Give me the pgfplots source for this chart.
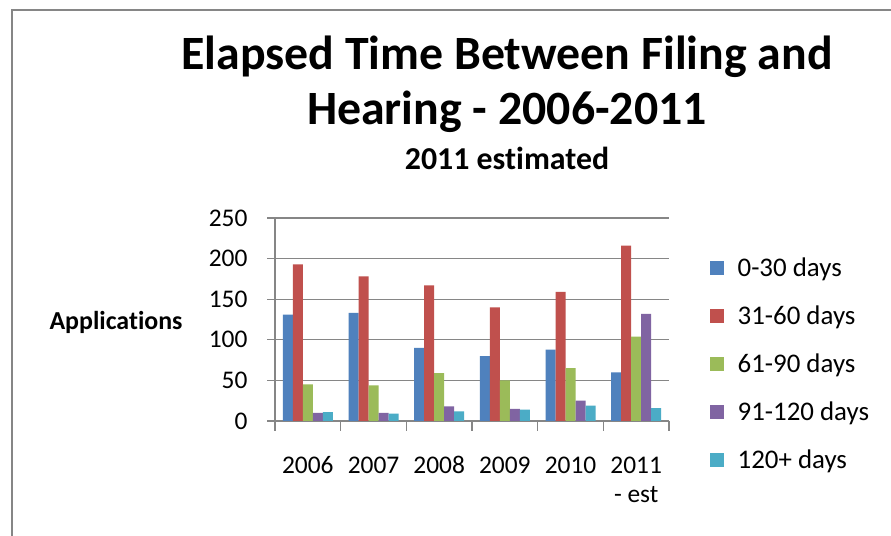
\documentclass[border=0pt]{standalone}
\usepackage{pgfplots}
\pgfplotsset{compat=1.18}
\usepackage{pgfplotstable}
\usepackage{fontspec}
\setmainfont{Carlito}[RawFeature=-liga]
\definecolor{cA}{HTML}{4F81BD}
\definecolor{cB}{HTML}{C0504D}
\definecolor{cC}{HTML}{9BBB59}
\definecolor{cD}{HTML}{8064A2}
\definecolor{cE}{HTML}{4BACC6}
\definecolor{gridgray}{RGB}{134,134,134}
\pgfplotstableread{
x a b c d e
0 131 193 45 10 11
1 133 178 44 10 9
2 90 167 59 18 12
3 80 140 50 15 14
4 88 159 65 25 19
5 60 216 104 132 16
}\datatable
\begin{document}
\begin{tikzpicture}[x=1bp,y=1bp]
\useasboundingbox (0,0) rectangle (891,536);
\fill[white] (0,0) rectangle (891,536);
\draw[gridgray, line width=2bp] (12,0) -- (12,526) -- (891,526);
\node[anchor=base, inner sep=0, font=\bfseries\fontsize{48}{56}\selectfont] at (507,466) {Elapsed Time Between Filing and};
\node[anchor=base, inner sep=0, font=\bfseries\fontsize{48}{56}\selectfont] at (507,411) {Hearing - 2006-2011};
\node[anchor=base, inner sep=0, font=\bfseries\fontsize{32}{38}\selectfont] at (507,366) {2011 estimated};
\node[inner sep=0, font=\bfseries\fontsize{26}{31}\selectfont] at (116,214) {Applications};
\begin{axis}[
  at={(275bp,115bp)}, anchor=south west,
  scale only axis, width=394bp, height=203bp,
  xmin=-0.5, xmax=5.5, ymin=0, ymax=250,
  ytick={0,50,...,250},
  xtick={0,...,5},
  xticklabels={2006,2007,2008,2009,2010,{2011\\- est}},
  minor xtick={-0.5,0.5,...,5.5},
  /pgf/number format/assume math mode=true,
  tick label style={font=\fontsize{25.5}{30}\selectfont},
  xticklabel style={align=center, yshift=-24bp},
  yticklabel style={xshift=-16bp},
  ymajorgrids,
  grid style={gridgray, line width=1.3bp},
  axis x line*=bottom, axis y line*=left,
  axis line style={gridgray, line width=1.3bp, -},
  tick align=outside,
  major tick length=8bp,
  minor tick length=10bp,
  xtick style={draw=none},
  minor x tick style={draw=gridgray, line width=1.3bp},
  ytick style={gridgray, line width=1.3bp},
  ybar=0pt, bar width=10bp,
  legend cell align=left,
  legend style={at={(1.095,0.281)}, anchor=west, draw=none, fill=none,
    font=\fontsize{27}{32}\selectfont, row sep=23.8bp,
    /tikz/every odd column/.append style={column sep=12bp}},
  legend image code/.code={\fill[#1] (0bp,-7bp) rectangle (14bp,7bp);},
]
\addplot[fill=cA, draw=none] table[x=x, y=a] {\datatable};
\addplot[fill=cB, draw=none] table[x=x, y=b] {\datatable};
\addplot[fill=cC, draw=none] table[x=x, y=c] {\datatable};
\addplot[fill=cD, draw=none] table[x=x, y=d] {\datatable};
\addplot[fill=cE, draw=none] table[x=x, y=e] {\datatable};
\legend{0-30 days,31-60 days,61-90 days,91-120 days,120+ days}
\end{axis}
\end{tikzpicture}
\end{document}
